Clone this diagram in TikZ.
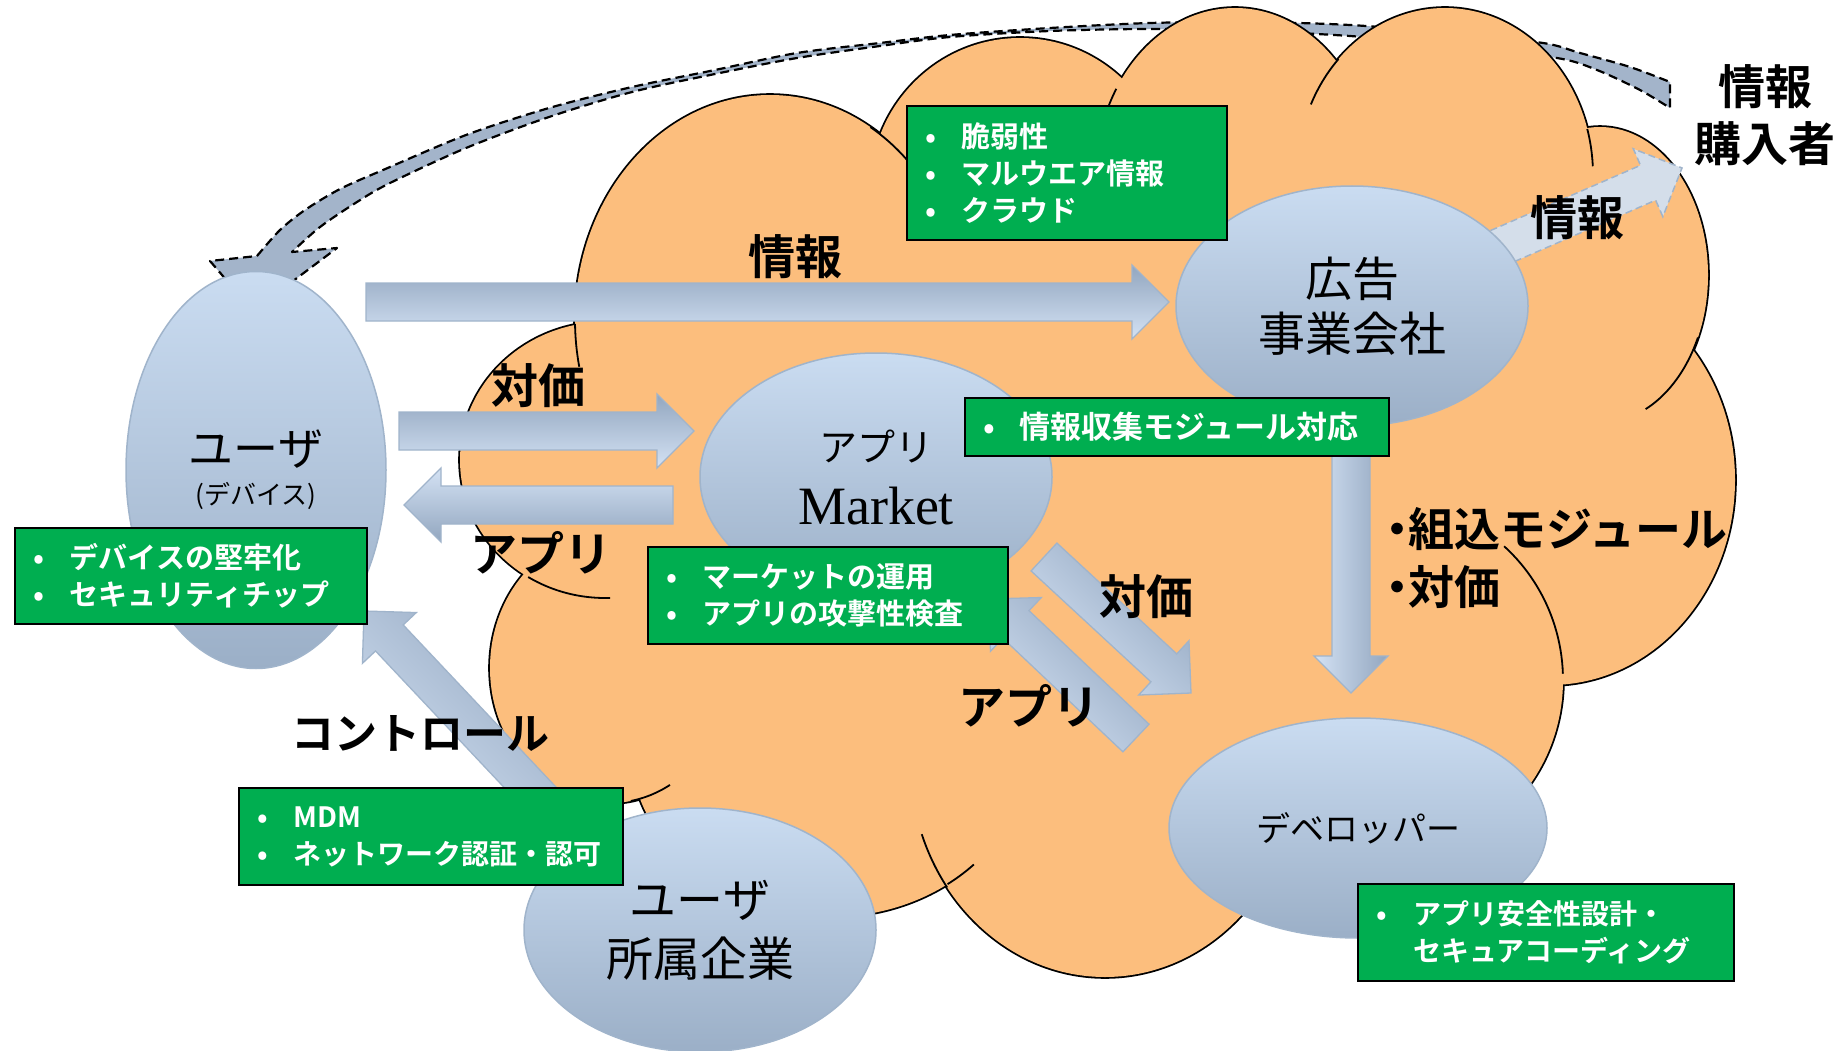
\documentclass[tikz,border=0pt]{standalone}
\usepackage{fontspec}
\usetikzlibrary{shapes.geometric,calc}
\newfontfamily\jp{Noto Sans CJK JP}
\newfontfamily\jpb{Noto Sans CJK JP Bold}
\newfontfamily\lserif{Liberation Serif}
\definecolor{orng}{RGB}{252,190,125}
\definecolor{etop}{RGB}{202,220,241}
\definecolor{ebot}{RGB}{155,175,199}
\definecolor{eedge}{RGB}{160,180,203}
\definecolor{adark}{RGB}{146,166,191}
\definecolor{alight}{RGB}{212,226,244}
\definecolor{aedge}{RGB}{160,180,203}
\definecolor{gfill}{RGB}{0,174,80}
\definecolor{hfill}{RGB}{212,222,234}
\definecolor{bigfill}{RGB}{163,180,202}
\newcommand{\blockarr}[3]{%
  \coordinate (hb) at ($(#2)!37pt!(#1)$);
  \path[#3] ($(#1)!19pt!90:(#2)$) -- ($(hb)!19pt!90:(#2)$) -- ($(hb)!37pt!90:(#2)$)
    -- (#2) -- ($(hb)!37pt!-90:(#2)$) -- ($(hb)!19pt!-90:(#2)$) -- ($(#1)!19pt!-90:(#2)$) -- cycle;}
\newcommand{\bul}{\makebox[50pt][l]{\makebox[38pt][c]{•}}}
\newcommand{\nob}{\makebox[50pt][l]{}}
\begin{document}
\begin{tikzpicture}[x=1pt,y=-1pt,
  cloudline/.style={draw=black, line width=3.6pt, fill=orng},
  cloudfill/.style={fill=orng},
  innerarc/.style={draw=black, line width=1.8pt},
  bigarr/.style={fill=bigfill, draw=black, line width=2.2pt, dash pattern=on 9pt off 5pt, line join=round},
  blk/.style={draw=aedge, line width=1.3pt},
  arrE/.style={blk, top color=adark, bottom color=alight},
  arrW/.style={blk, top color=alight, bottom color=adark},
  arrS/.style={blk, left color=alight, right color=adark},
  arrD/.style={blk, top color=adark, bottom color=alight, shading angle=-45},
  infoarr/.style={fill=hfill, draw=aedge, line width=1.5pt, dash pattern=on 7pt off 4pt},
  ell/.style={ellipse, draw=eedge, line width=1.5pt, top color=etop, bottom color=ebot, inner sep=0pt, align=center},
  gbox/.style={rectangle, draw=black, line width=2pt, fill=gfill, text=white, font=\jpb\fontsize{29}{37}\selectfont, align=left, inner xsep=5pt, inner ysep=0pt},
  lbl/.style={font=\jpb\fontsize{47}{57}\selectfont, inner sep=0pt, text=black}]
\useasboundingbox (0,0) rectangle (1845,1051);
\fill[white] (0,0) rectangle (1845,1051);
\clip (0,0) rectangle (1845,1051);

% big curved dashed arrow (back)
\draw[bigarr] plot[smooth, tension=0.5] coordinates {(257,256) (280,230) (305,210) (340,189) (383,170) (466,135) (549,108) (632,87) (715,70) (797,53) (880,43) (950,35) (1050,28) (1150,23) (1250,22) (1350,25) (1450,33) (1543,43) (1580,53) (1630,67) (1670,82)}
  -- plot[smooth, tension=0.5] coordinates {(1670,108) (1640,90) (1597,70) (1557,58) (1450,45) (1350,36) (1250,31) (1150,29) (1050,31) (950,37) (880,46) (797,58) (715,74) (632,92) (549,117) (466,148) (390,183) (357,202) (320,227) (292,252)}
  -- (337,248) -- (253,311) -- (210,261) -- cycle;

% cloud
\foreach \cx/\cy/\rx/\ry in {770/320/195/225, 1020/190/150/152, 1235/180/140/172, 1445/175/148/167, 1600/275/108/148, 1550/480/185/205, 1385/680/178/180, 1105/760/195/217, 830/745/200/172, 610/668/120/135, 605/460/145/138}
  \path[cloudline] (\cx,\cy) ellipse [x radius=\rx, y radius=\ry];
\foreach \cx/\cy/\rx/\ry in {770/320/195/225, 1020/190/150/152, 1235/180/140/172, 1445/175/148/167, 1600/275/108/148, 1550/480/185/205, 1385/680/178/180, 1105/760/195/217, 830/745/200/172, 610/668/120/135, 605/460/145/138, 1050/520/450/330}
  \path[cloudfill] (\cx,\cy) ellipse [x radius=\rx, y radius=\ry];
\foreach \cx/\cy/\rx/\ry/\ta/\tb in {605/460/145/138/88/122, 770/320/195/225/168/179, 610/668/120/135/60/80, 830/745/200/172/44/54, 1105/760/195/217/144/160, 1385/680/178/180/-48/-2, 1600/275/108/148/25/65, 1445/175/148/167/-16/-3, 1445/175/148/167/205/224, 1235/180/140/172/198/212, 770/320/195/225/-59/-44}
  \draw[innerarc] plot[domain=\ta:\tb, samples=25, variable=\t] ({\cx+\rx*cos(\t)},{\cy+\ry*sin(\t)});

% arrow end points
\coordinate (aS) at (366,302);  \coordinate (aE) at (1169,302);
\coordinate (bS) at (399,431);  \coordinate (bE) at (694,431);
\coordinate (cS) at (673,505);  \coordinate (cE) at (404,505);
\coordinate (dS) at (575,835);  \coordinate (dE) at (364,611);
\coordinate (eS) at (1044,557); \coordinate (eE) at (1191,693);
\coordinate (fS) at (1136,738); \coordinate (fE) at (989,599);
\coordinate (gS) at (1351,420); \coordinate (gE) at (1351,693);
\coordinate (hS) at (1498,248); \coordinate (hE) at (1682,168);

\blockarr{hS}{hE}{infoarr}
\blockarr{aS}{aE}{arrE}
\blockarr{bS}{bE}{arrE}
\blockarr{cS}{cE}{arrW}
\blockarr{dS}{dE}{arrD}
\blockarr{eS}{eE}{arrD}
\blockarr{fS}{fE}{arrD}
\blockarr{gS}{gE}{arrS}

% ellipses
\node[ell, minimum width=260pt, minimum height=397pt, font=\jp\fontsize{45}{39}\selectfont] (user) at (256,470) {ユーザ\\{\fontsize{26}{30}\selectfont (デバイス)}};
\node[ell, minimum width=352pt, minimum height=248pt, font=\jp\fontsize{38}{63}\selectfont] (market) at (876,477) {アプリ\\{\lserif\fontsize{54}{63}\selectfont Market}};
\node[ell, minimum width=352pt, minimum height=240pt, font=\jp\fontsize{47}{55}\selectfont] (ad) at (1352,306) {広告\\事業会社};
\node[ell, minimum width=378pt, minimum height=220pt, font=\jp\fontsize{34}{40}\selectfont] (dev) at (1358,828) {デベロッパー};
\node[ell, minimum width=352pt, minimum height=244pt, font=\jp\fontsize{47}{59}\selectfont] (corp) at (700,930) {ユーザ\\所属企業};

% green boxes
\node[gbox, text width=310pt, minimum height=134pt] (b1) at (1067,173) {\bul 脆弱性\\\bul マルウエア情報\\\bul クラウド};
\node[gbox, text width=414pt, minimum height=58pt, font=\jpb\fontsize{31}{40}\selectfont] (b2) at (1177,427) {\bul 情報収集モジュール対応};
\node[gbox, text width=342pt, minimum height=96pt] (b3) at (191,576) {\bul デバイスの堅牢化\\\bul セキュリティチップ};
\node[gbox, text width=350pt, minimum height=97pt] (b4) at (828,595.5) {\bul マーケットの運用\\\bul アプリの攻撃性検査};
\node[gbox, text width=374pt, minimum height=97pt, font=\jpb\fontsize{28}{37}\selectfont] (b5) at (431,836.5) {\bul MDM\\\bul ネットワーク認証・認可};
\node[gbox, text width=366pt, minimum height=97pt, font=\jpb\fontsize{28}{37}\selectfont] (b6) at (1546,932.5) {\bul アプリ安全性設計・\\\nob セキュアコーディング};

% labels
\node[lbl] (l1) at (795,257) {情報};
\node[lbl] (l2) at (538,386) {対価};
\node[lbl] (l3) at (541,553) {アプリ};
\node[lbl, font=\jpb\fontsize{43}{50}\selectfont] (l4) at (420,733) {コントロール};
\node[lbl] (l5) at (1146,597) {対価};
\node[lbl] (l6) at (1029,706) {アプリ};
\node[lbl, anchor=west, font=\jpb\fontsize{46}{55}\selectfont] (l7) at (1386,529) {\makebox[22pt]{・}組込モジュール};
\node[lbl, anchor=west, font=\jpb\fontsize{46}{55}\selectfont] (l8) at (1386,587) {\makebox[22pt]{・}対価};
\node[lbl] (l9) at (1577,218) {情報};
\node[lbl, align=center] (buyer) at (1765,115) {情報\\購入者};
\end{tikzpicture}
\end{document}
